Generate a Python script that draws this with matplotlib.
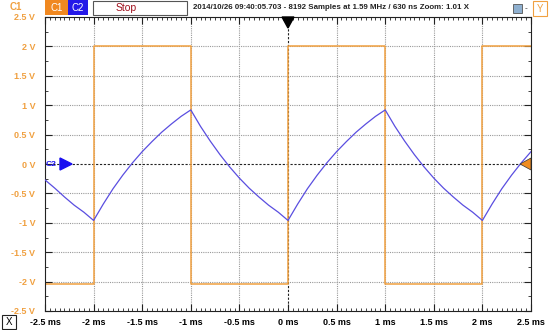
import matplotlib
matplotlib.use("Agg")
import matplotlib.pyplot as plt
from matplotlib.patches import Rectangle, Polygon
from matplotlib.ticker import MultipleLocator, FuncFormatter

# C1 square wave (ms, V), corners
c1_t = [-2.5, -2.0, -2.0, -0.995, -0.995, 0.0, 0.0, 1.0, 1.0, 2.0, 2.0, 2.5]
c1_v = [-2.04, -2.04, 2.0, 2.0, -2.04, -2.04, 2.0, 2.0, -2.04, -2.04, 2.0, 2.0]

# C2 RC-charging triangle (ms, V), read every 0.1 ms
c2_t = [-2.5, -2.4, -2.3, -2.2, -2.1,
        -2.0, -1.9, -1.8, -1.7, -1.6, -1.5, -1.4, -1.3, -1.2, -1.1,
        -1.0, -0.9, -0.8, -0.7, -0.6, -0.5, -0.4, -0.3, -0.2, -0.1,
        0.0, 0.1, 0.2, 0.3, 0.4, 0.5, 0.6, 0.7, 0.8, 0.9,
        1.0, 1.1, 1.2, 1.3, 1.4, 1.5, 1.6, 1.7, 1.8, 1.9,
        2.0, 2.1, 2.2, 2.3, 2.4, 2.5]
c2_v = [-0.27, -0.41, -0.56, -0.70, -0.82,
        -0.96, -0.68, -0.42, -0.19, 0.02, 0.21, 0.38, 0.54, 0.68, 0.81,
        0.92, 0.64, 0.39, 0.16, -0.05, -0.24, -0.41, -0.56, -0.70, -0.82,
        -0.96, -0.68, -0.42, -0.19, 0.02, 0.21, 0.38, 0.54, 0.68, 0.81,
        0.92, 0.64, 0.39, 0.16, -0.05, -0.24, -0.41, -0.56, -0.70, -0.82,
        -0.96, -0.68, -0.42, -0.19, 0.02, 0.21]

header = "2014/10/26 09:40:05.703 - 8192 Samples at 1.59 MHz / 630 ns Zoom: 1.01 X"

ORANGE = "#f0a040"
BLUE = "#5a4ee0"
W, H = 549, 330

def fx(px):
    return px / W

def fy(py):
    return 1 - py / H

fig = plt.figure(figsize=(5.49, 3.30), dpi=100)
plt.rcParams['font.family'] = ['Liberation Sans', 'DejaVu Sans']

ax = fig.add_axes([fx(45), fy(311), fx(531) - fx(45), fy(17) - fy(311)])
ax.set_xlim(-2.5, 2.5)
ax.set_ylim(-2.5, 2.5)

# grid
for v in [-2.0, -1.5, -1.0, -0.5, 0.5, 1.0, 1.5, 2.0]:
    ax.axvline(v, color="#9a9a9a", lw=0.8, ls=(0, (1, 1)), zorder=1)
    ax.axhline(v, color="#9a9a9a", lw=0.8, ls=(0, (1, 1)), zorder=1)
ax.axvline(0, color="#222222", lw=0.8, ls=(0, (2, 1.5)), zorder=1)
ax.axhline(0, color="#222222", lw=0.8, ls=(0, (2, 1.5)), zorder=1)

ax.plot(c1_t, c1_v, color=ORANGE, lw=1.1, zorder=2)
ax.plot(c2_t, c2_v, color=BLUE, lw=0.9, zorder=3)

# ticks
ax.xaxis.set_major_locator(MultipleLocator(0.5))
ax.xaxis.set_minor_locator(MultipleLocator(0.05))
ax.yaxis.set_major_locator(MultipleLocator(0.5))
ax.yaxis.set_minor_locator(MultipleLocator(0.25))
ax.tick_params(which="both", direction="in", top=True, right=True, color="#222222")
ax.tick_params(which="major", length=5, width=0.8)
ax.tick_params(which="minor", length=2.5, width=0.6)
ax.tick_params(axis="x", pad=5, labelsize=6.5, labelcolor="black")
ax.tick_params(axis="y", pad=7, labelsize=6.5, labelcolor=ORANGE)

def fmt(v, unit):
    s = ("%g" % round(v, 2))
    return s + " " + unit

ax.xaxis.set_major_formatter(FuncFormatter(lambda v, p: fmt(v, "ms")))
ax.yaxis.set_major_formatter(FuncFormatter(lambda v, p: fmt(v, "V")))
for lab in ax.get_xticklabels() + ax.get_yticklabels():
    lab.set_fontweight("bold")
for sp in ax.spines.values():
    sp.set_color("#222222")
    sp.set_linewidth(0.8)

# markers
fig.patches.append(Polygon([[fx(282), fy(17)], [fx(294), fy(17)], [fx(288), fy(28)]],
                           closed=True, color="black", transform=fig.transFigure, zorder=5))
fig.patches.append(Polygon([[fx(60), fy(158)], [fx(60), fy(170)], [fx(72), fy(164)]],
                           closed=True, color="#1a10f0", transform=fig.transFigure, zorder=5))
fig.text(fx(46), fy(164), "C2", color="#1a10f0", fontsize=6, fontweight="bold",
         ha="left", va="center")
fig.patches.append(Polygon([[fx(531), fy(158)], [fx(531), fy(170)], [fx(520), fy(164)]],
                           closed=True, facecolor="#f08c20", edgecolor="#333333", lw=0.5,
                           transform=fig.transFigure, zorder=5))

# header bar
fig.text(fx(16), fy(7), "C1", color=ORANGE, fontsize=7, fontweight="bold", ha="center", va="center")
fig.patches.append(Rectangle((fx(45), fy(15)), fx(23), fy(0) - fy(15), facecolor="#f08820",
                             edgecolor="none", transform=fig.transFigure))
fig.text(fx(56.5), fy(8), "C1", color="white", fontsize=7, ha="center", va="center")
fig.patches.append(Rectangle((fx(68), fy(15)), fx(20), fy(0) - fy(15), facecolor="#2418e8",
                             edgecolor="none", transform=fig.transFigure))
fig.text(fx(78), fy(8), "C2", color="white", fontsize=7, ha="center", va="center")
fig.patches.append(Rectangle((fx(93), fy(15)), fx(94), fy(1) - fy(15), facecolor="white",
                             edgecolor="#555555", lw=0.8, transform=fig.transFigure))
fig.text(fx(126), fy(8), "Stop", color="#a0101c", fontsize=7.5, ha="center", va="center")
fig.text(fx(193), fy(7.5), header, color="#222222", fontsize=5.7, fontweight="bold",
         ha="left", va="center")
fig.patches.append(Rectangle((fx(513), fy(13)), fx(9), fy(4) - fy(13), facecolor="#8fb0d0",
                             edgecolor="#555555", lw=0.6, transform=fig.transFigure))
fig.text(fx(526), fy(9), "-", color="#333333", fontsize=6, ha="center", va="center")
fig.patches.append(Rectangle((fx(533), fy(16)), fx(14), fy(1) - fy(16), facecolor="white",
                             edgecolor=ORANGE, lw=0.8, transform=fig.transFigure))
fig.text(fx(540), fy(8.5), "Y", color=ORANGE, fontsize=7, ha="center", va="center")

# X box bottom-left
fig.patches.append(Rectangle((fx(2), fy(329)), fx(14), fy(315) - fy(329), facecolor="white",
                             edgecolor="#222222", lw=0.8, transform=fig.transFigure))
fig.text(fx(9), fy(322), "X", color="black", fontsize=7, ha="center", va="center")

fig.savefig("out.png", dpi=100, facecolor="white")
